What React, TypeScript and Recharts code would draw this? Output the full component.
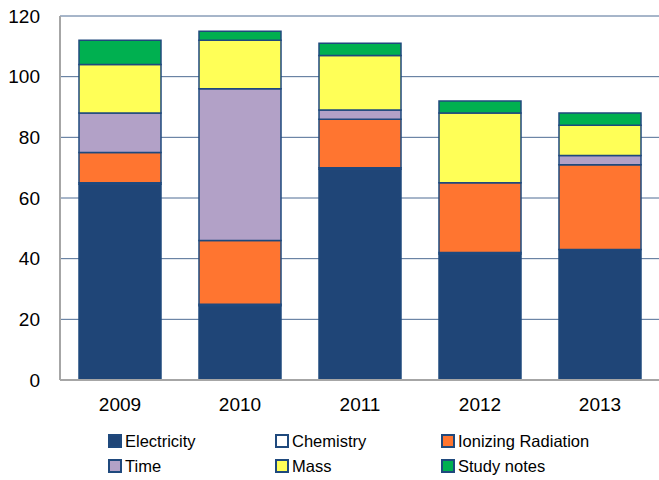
import React from 'react';
import { BarChart, Bar, XAxis, YAxis, CartesianGrid } from 'recharts';

const years = ['2009', '2010', '2011', '2012', '2013'];
const electricity = [64.5, 24.5, 69.5, 41.5, 43];
const chemistry = [0.5, 0.5, 0.5, 0.5, 0];
const ionizing = [10, 21, 16, 23, 28];
const time = [13, 50, 3, 0, 3];
const mass = [16, 16, 18, 23, 10];
const studyNotes = [8, 3, 4, 4, 4];
const yTicks = [0, 20, 40, 60, 80, 100, 120];

const SERIES = [
  { key: 'electricity', name: 'Electricity', color: '#1F4577' },
  { key: 'chemistry', name: 'Chemistry', color: '#FFFFFF' },
  { key: 'ionizing', name: 'Ionizing Radiation', color: '#FF7530' },
  { key: 'time', name: 'Time', color: '#B2A1C7' },
  { key: 'mass', name: 'Mass', color: '#FFFF57' },
  { key: 'studyNotes', name: 'Study notes', color: '#00B050' },
];

const data = years.map((year, i) => ({
  year,
  electricity: electricity[i],
  chemistry: chemistry[i],
  ionizing: ionizing[i],
  time: time[i],
  mass: mass[i],
  studyNotes: studyNotes[i],
}));

const FONT = '"Liberation Sans", Arial, sans-serif';
const BORDER = '#1F497D';

// legend columns sit at fixed x offsets, two rows of three
const legendCols = [108, 275, 441];

const LegendBox = () => (
  <div style={{ position: 'absolute', left: 0, top: 431, width: 659, height: 50, fontFamily: FONT, fontSize: 16.5, color: '#000' }}>
    {SERIES.map((s, i) => (
      <div
        key={s.key}
        style={{
          position: 'absolute',
          left: legendCols[i % 3],
          top: i < 3 ? 0 : 25,
          display: 'flex',
          alignItems: 'center',
          height: 20,
          whiteSpace: 'nowrap',
        }}
      >
        <span
          style={{
            display: 'inline-block',
            width: 10,
            height: 10,
            background: s.color,
            border: `2px solid ${BORDER}`,
            marginRight: 3,
          }}
        />
        <span>{s.name}</span>
      </div>
    ))}
  </div>
);

export default function App() {
  return (
    <div style={{ position: 'absolute', left: 0, top: 0, width: 659, height: 480, background: '#fff' }}>
      <BarChart
        width={659}
        height={480}
        data={data}
        margin={{ top: 16, right: -1, left: 0, bottom: 60 }}
        barCategoryGap={19}
      >
        <CartesianGrid vertical={false} stroke="#4F6D94" strokeWidth={1} />
        <XAxis
          dataKey="year"
          axisLine={{ stroke: '#A6A6A6', strokeWidth: 2 }}
          tickLine={false}
          tickSize={0}
          tickMargin={18}
          height={40}
          tick={{ fontFamily: FONT, fontSize: 19, fill: '#000' }}
        />
        <YAxis
          domain={[0, 120]}
          ticks={yTicks}
          interval={0}
          width={60}
          axisLine={{ stroke: '#A6A6A6', strokeWidth: 2 }}
          tickLine={false}
          tickSize={0}
          tickMargin={20}
          tick={{ fontFamily: FONT, fontSize: 19, fill: '#000' }}
        />
        {SERIES.map((s) => (
          <Bar
            key={s.key}
            dataKey={s.key}
            name={s.name}
            stackId="a"
            fill={s.color}
            stroke={BORDER}
            strokeWidth={1.5}
            isAnimationActive={false}
          />
        ))}
      </BarChart>
      <LegendBox />
    </div>
  );
}
